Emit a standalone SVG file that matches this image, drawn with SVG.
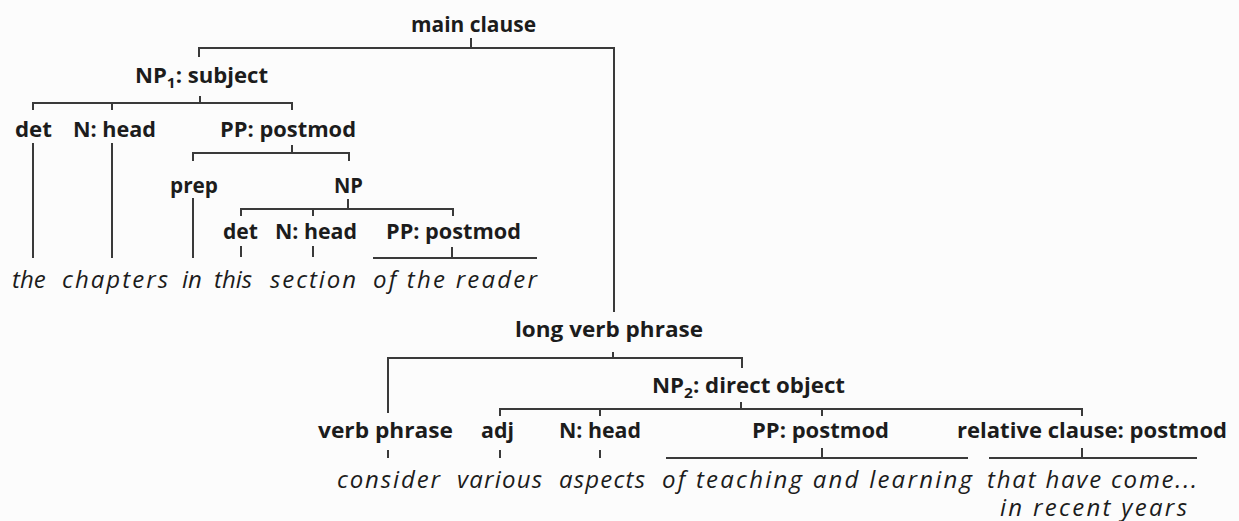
<svg xmlns="http://www.w3.org/2000/svg" width="1239" height="521" viewBox="0 0 1239 521">
<style>
.lbl{font-family:"Open Sans","Liberation Sans",sans-serif;font-weight:700;font-size:21.5px;fill:#1c1c1c}
.sub{font-size:15px}
.w{font-family:"Open Sans","Liberation Sans",sans-serif;font-style:italic;font-size:24px;fill:#1c1c1c}
.ln{stroke:#3a3a3a;stroke-width:2;fill:none}
</style>
<rect width="1239" height="521" fill="#fcfcfc"/>
<g id="connectors" class="ln">
<path d="M471 38V48M199 57V48H614V312"/>
<path d="M200 96V103M33 110V103H292V110M112 103V110"/>
<path d="M33 143V258M112 143V258"/>
<path d="M292 145V153M193 161V153H349V161"/>
<path d="M193 198V258"/>
<path d="M348 199V209M241 216V209H453V216M313 209V216"/>
<path d="M241 246V257M313 246V257"/>
<path d="M452 247V258M373 258H537"/>
<path d="M613 352V358M388 413V358H742V368"/>
<path d="M741 402V409M500 416V409H1082V416M600 409V416M822 409V416"/>
<path d="M388 450V458M500 450V458M600 450V458"/>
<path d="M822 448V458M666 458H968"/>
<path d="M1082 448V458M989 458H1197"/>
</g>
<g id="main-clause"><text class="lbl" x="411" y="32" textLength="125" lengthAdjust="spacingAndGlyphs">main clause</text></g>
<g id="np1-subject"><text class="lbl" x="135" y="83" textLength="133" lengthAdjust="spacingAndGlyphs">NP<tspan class="sub" dy="5">1</tspan><tspan dy="-5">: subject</tspan></text></g>
<g id="det1"><text class="lbl" x="15" y="137" textLength="37" lengthAdjust="spacingAndGlyphs">det</text></g>
<g id="nhead1"><text class="lbl" x="73" y="137" textLength="83" lengthAdjust="spacingAndGlyphs">N: head</text></g>
<g id="pp-postmod1"><text class="lbl" x="220" y="137" textLength="136" lengthAdjust="spacingAndGlyphs">PP: postmod</text></g>
<g id="prep"><text class="lbl" x="170" y="193" textLength="48" lengthAdjust="spacingAndGlyphs">prep</text></g>
<g id="np"><text class="lbl" x="334" y="193" textLength="29" lengthAdjust="spacingAndGlyphs">NP</text></g>
<g id="det2"><text class="lbl" x="223" y="239" textLength="35" lengthAdjust="spacingAndGlyphs">det</text></g>
<g id="nhead2"><text class="lbl" x="275" y="239" textLength="82" lengthAdjust="spacingAndGlyphs">N: head</text></g>
<g id="pp-postmod2"><text class="lbl" x="386" y="239" textLength="135" lengthAdjust="spacingAndGlyphs">PP: postmod</text></g>
<g id="words1">
<text class="w" x="12" y="288">the</text>
<text class="w" x="62" y="288" textLength="106">chapters</text>
<text class="w" x="182" y="288">in</text>
<text class="w" x="214" y="288">this</text>
<text class="w" x="270" y="288" textLength="86">section</text>
<text class="w" x="373" y="288" textLength="164">of the reader</text>
</g>
<g id="long-verb-phrase"><text class="lbl" x="515" y="337" textLength="188" lengthAdjust="spacingAndGlyphs">long verb phrase</text></g>
<g id="np2-direct-object"><text class="lbl" x="652" y="393" textLength="193" lengthAdjust="spacingAndGlyphs">NP<tspan class="sub" dy="5">2</tspan><tspan dy="-5">: direct object</tspan></text></g>
<g id="verb-phrase"><text class="lbl" x="318" y="438" textLength="135" lengthAdjust="spacingAndGlyphs">verb phrase</text></g>
<g id="adj"><text class="lbl" x="481" y="438" textLength="33" lengthAdjust="spacingAndGlyphs">adj</text></g>
<g id="nhead3"><text class="lbl" x="559" y="438" textLength="82" lengthAdjust="spacingAndGlyphs">N: head</text></g>
<g id="pp-postmod3"><text class="lbl" x="752" y="438" textLength="137" lengthAdjust="spacingAndGlyphs">PP: postmod</text></g>
<g id="relative-clause"><text class="lbl" x="957" y="438" textLength="270" lengthAdjust="spacingAndGlyphs">relative clause: postmod</text></g>
<g id="words2">
<text class="w" x="337" y="488" textLength="103">consider</text>
<text class="w" x="457" y="488" textLength="85">various</text>
<text class="w" x="559" y="488" textLength="86">aspects</text>
<text class="w" x="662" y="488" textLength="310">of teaching and learning</text>
<text class="w" x="987" y="488" textLength="210">that have come...</text>
<text class="w" x="1000" y="516" textLength="187">in recent years</text>
</g>
</svg>
